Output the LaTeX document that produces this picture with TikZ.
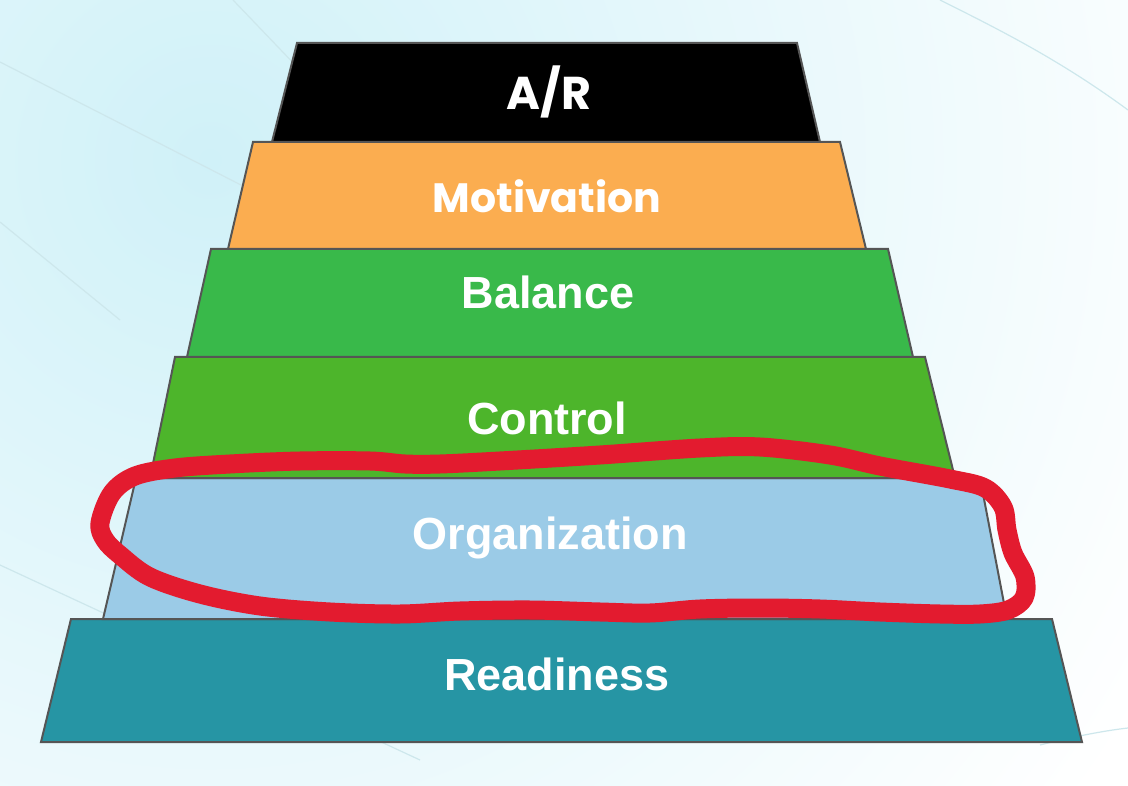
\documentclass[tikz,border=0pt]{standalone}
\usepackage{fontspec}
\setmainfont{Liberation Sans}
\newfontfamily\popfont{Poppins}
\definecolor{edgegray}{HTML}{555555}
\definecolor{arblack}{HTML}{000000}
\definecolor{motorange}{HTML}{FBAD50}
\definecolor{balgreen}{HTML}{39B94A}
\definecolor{congreen}{HTML}{4DB52B}
\definecolor{orgblue}{HTML}{9BCBE7}
\definecolor{readteal}{HTML}{2695A4}
\definecolor{loopred}{HTML}{E31B2F}
\definecolor{bgcyan}{HTML}{D0F1F8}
\definecolor{faintline}{HTML}{CDE7EC}
\begin{document}
\begin{tikzpicture}[x=1pt,y=-1pt,
  layer/.style={draw=edgegray, line width=2pt, line join=miter},
  lbl/.style={text=white, font=\bfseries\fontsize{45}{50}\selectfont, anchor=base, inner sep=0pt},
  poplbl/.style={text=white, font=\popfont\bfseries\fontsize{41}{46}\selectfont, anchor=base, inner sep=0pt},
  faint/.style={draw=faintline, line width=1.2pt},
  redloop/.style={draw=loopred, line width=19pt, line cap=round, line join=round}]
\useasboundingbox (0,0) rectangle (1128,786);
% background
\fill[white] (0,0) rectangle (1128,786);
\begin{scope}
  \clip (0,0) rectangle (1128,786);
  \shade[inner color=bgcyan, outer color=white] (210,160) circle (1080);
  \draw[faint] (0,62) -- (290,210);
  \draw[faint] (0,222) -- (120,320);
  \draw[faint] (233,0) -- (300,70);
  \draw[faint] (0,565) -- (420,760);
  \draw[faint] (940,0) .. controls (1000,30) and (1060,60) .. (1128,110);
  \draw[faint] (1040,745) .. controls (1080,735) and (1110,730) .. (1128,728);
\end{scope}
% layers
\path[layer, fill=readteal] (71,619) -- (1052,619) -- (1082,742) -- (41,742) -- cycle;
\path[layer, fill=orgblue] (136,478) -- (980,478) -- (1007,619) -- (103,619) -- cycle;
\path[layer, fill=congreen] (175,357) -- (925,357) -- (955,478) -- (150,478) -- cycle;
\path[layer, fill=balgreen] (211,249) -- (888,249) -- (913,357) -- (187,357) -- cycle;
\path[layer, fill=motorange] (253,142) -- (840,142) -- (866,249) -- (228,249) -- cycle;
\path[layer, fill=arblack] (297,43) -- (797,43) -- (820,142) -- (272,142) -- cycle;
% labels
\node[poplbl, font=\popfont\bfseries\fontsize{46}{50}\selectfont] (ar) at (549,110) {A/R};
\node[poplbl] (mot) at (547,213) {Motivation};
\node[lbl] (bal) at (548,309) {Balance};
\node[lbl] (con) at (547,435) {Control};
\node[lbl] (org) at (550,549) {Organization};
\node[lbl] (rea) at (557,690) {Readiness};
% red hand-drawn loop
\draw[redloop] plot[smooth cycle, tension=0.55] coordinates {
  (100,523) (112,493) (135,476) (175,468) (230,464) (300,461) (370,461) (405,464)
  (440,464) (500,461) (600,455) (700,448) (760,447) (830,455) (880,466) (950,479)
  (985,488) (1003,507) (1007,530) (1013,553) (1025,577) (1024,598) (1008,610)
  (980,614) (940,614) (880,612) (820,609) (760,608) (700,609) (650,613) (600,612)
  (530,610) (460,611) (400,614) (330,612) (260,606) (200,594) (150,577) (120,555) (105,540)};
\end{tikzpicture}
\end{document}
